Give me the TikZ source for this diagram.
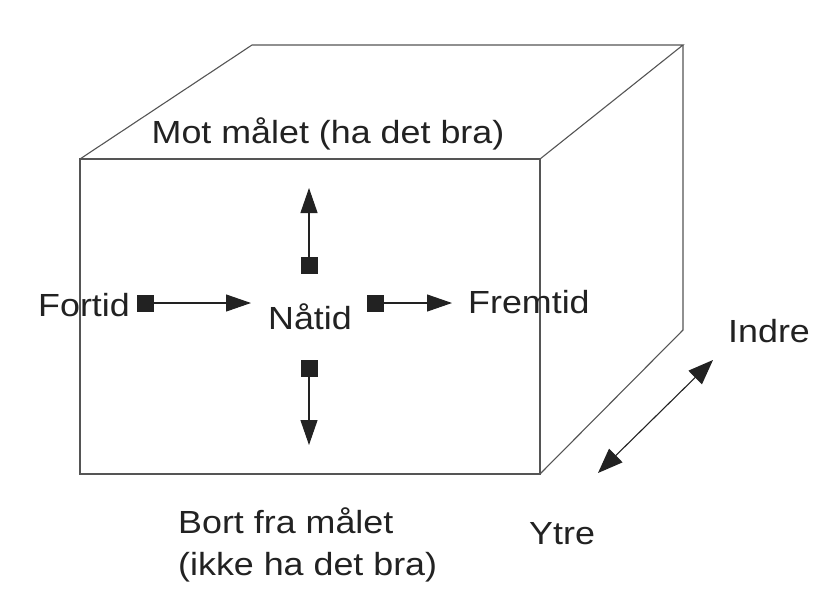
\documentclass[tikz,border=0pt]{standalone}
\usepackage{fontspec}
\setmainfont{Liberation Sans}[FakeStretch=1.12]
\usetikzlibrary{arrows.meta}
\definecolor{ink}{HTML}{222222}
\definecolor{edge}{HTML}{555555}
\tikzset{
  boxline/.style={draw=edge, line width=1.1pt, line join=miter},
  lbl/.style={inner sep=0pt, text=ink, font=\fontsize{32}{42}\selectfont},
  sq/.style={fill=ink, minimum size=17pt, inner sep=0pt, draw=none},
  arr/.style={draw=ink, line width=1.1pt, -{Triangle[length=25pt,width=17pt]}},
  darr/.style={draw=ink, line width=1.1pt, {Triangle[length=25pt,width=19pt]}-{Triangle[length=25pt,width=19pt]}}
}
\begin{document}
\begin{tikzpicture}[x=1pt,y=-1pt]
\useasboundingbox[fill=white] (0,0) rectangle (831,606);
% cube corners
\coordinate (ftl) at (80,159);
\coordinate (ftr) at (540,159);
\coordinate (fbr) at (540,474);
\coordinate (fbl) at (80,474);
\coordinate (btl) at (252,45);
\coordinate (btr) at (683,45);
\coordinate (bbr) at (683,330);
\draw[boxline] (ftl) -- (ftr) -- (fbr) -- (fbl) -- cycle;
\draw[boxline] (ftl) -- (btl) -- (btr) -- (ftr);
\draw[boxline] (btr) -- (bbr) -- (fbr);
% squares
\node[sq] (sU) at (309,265.5) {};
\node[sq] (sD) at (309,368.5) {};
\node[sq] (sL) at (145.5,303) {};
\node[sq] (sR) at (375,303) {};
\coordinate (tU) at (309,188);
\coordinate (tD) at (309,445);
\coordinate (tL) at (251,303);
\coordinate (tR) at (452,303);
\draw[arr] (sU.north) -- (tU);
\draw[arr] (sD.south) -- (tD);
\draw[arr] (sL.east) -- (tL);
\draw[arr] (sR.east) -- (tR);
% inner/outer arrow
\coordinate (dA) at (598,473);
\coordinate (dB) at (713,360);
\draw[darr] (dA) -- (dB);
% labels
\node[lbl, anchor=base] (mot) at (328,143) {Mot målet (ha det bra)};
\node[lbl, anchor=base west] (fortid) at (38,316) {Fortid};
\node[lbl, anchor=base] (natid) at (310,329) {Nåtid};
\node[lbl, anchor=base west] (fremtid) at (468,313) {Fremtid};
\node[lbl, anchor=base west] (indre) at (728,342) {Indre};
\node[lbl, anchor=base west] (ytre) at (529,544) {Ytre};
\node[lbl, anchor=base west] (bort) at (178,533) {Bort fra målet};
\node[lbl, anchor=base west] (ikke) at (178,575) {(ikke ha det bra)};
\end{tikzpicture}
\end{document}
